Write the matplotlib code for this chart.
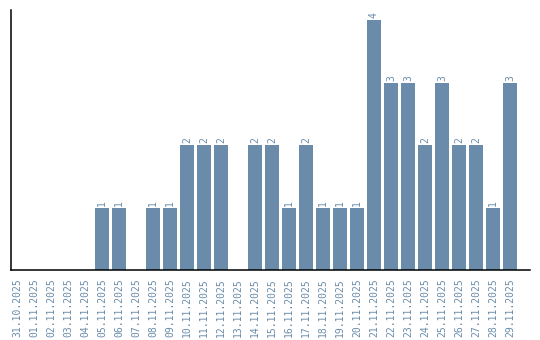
import numpy as np
import matplotlib
matplotlib.use('Agg')
import matplotlib.pyplot as plt

# daily counts
dates = ['31.10.2025', '01.11.2025', '02.11.2025', '03.11.2025', '04.11.2025',
    '05.11.2025', '06.11.2025', '07.11.2025', '08.11.2025', '09.11.2025',
    '10.11.2025', '11.11.2025', '12.11.2025', '13.11.2025', '14.11.2025',
    '15.11.2025', '16.11.2025', '17.11.2025', '18.11.2025', '19.11.2025',
    '20.11.2025', '21.11.2025', '22.11.2025', '23.11.2025', '24.11.2025',
    '25.11.2025', '26.11.2025', '27.11.2025', '28.11.2025', '29.11.2025']
counts = [0, 0, 0, 0, 0, 1, 1, 0, 1, 1, 2, 2, 2, 0, 2, 2, 1, 2, 1, 1, 1,
    4, 3, 3, 2, 3, 2, 2, 1, 3]

col = '#6a8caa'
fs = 7
mono = 'DejaVu Sans Mono'

fig = plt.figure(figsize=(5.4, 3.4), dpi=100)
ax = fig.add_axes([11/540, 70/340, 519/540, 260/340])

x = np.arange(len(dates))
ax.bar(x, counts, width=0.82, color=col)
for xi, c in zip(x, counts):
    if c > 0:
        ax.text(xi, c + 0.03, str(c), rotation=90, ha='center', va='bottom',
            color=col, fontsize=fs, family=mono)

ax.set_xlim(-0.35, 30.18)
ax.set_ylim(0, 4.16)
ax.set_xticks(x)
ax.set_xticklabels(dates, rotation=90, color=col, fontsize=fs, family=mono)
ax.tick_params(axis='x', length=0, pad=6)
ax.set_yticks([])
ax.spines['top'].set_visible(False)
ax.spines['right'].set_visible(False)
ax.spines['left'].set_linewidth(1.1)
ax.spines['bottom'].set_linewidth(1.1)

fig.savefig('out.png', dpi=100)
